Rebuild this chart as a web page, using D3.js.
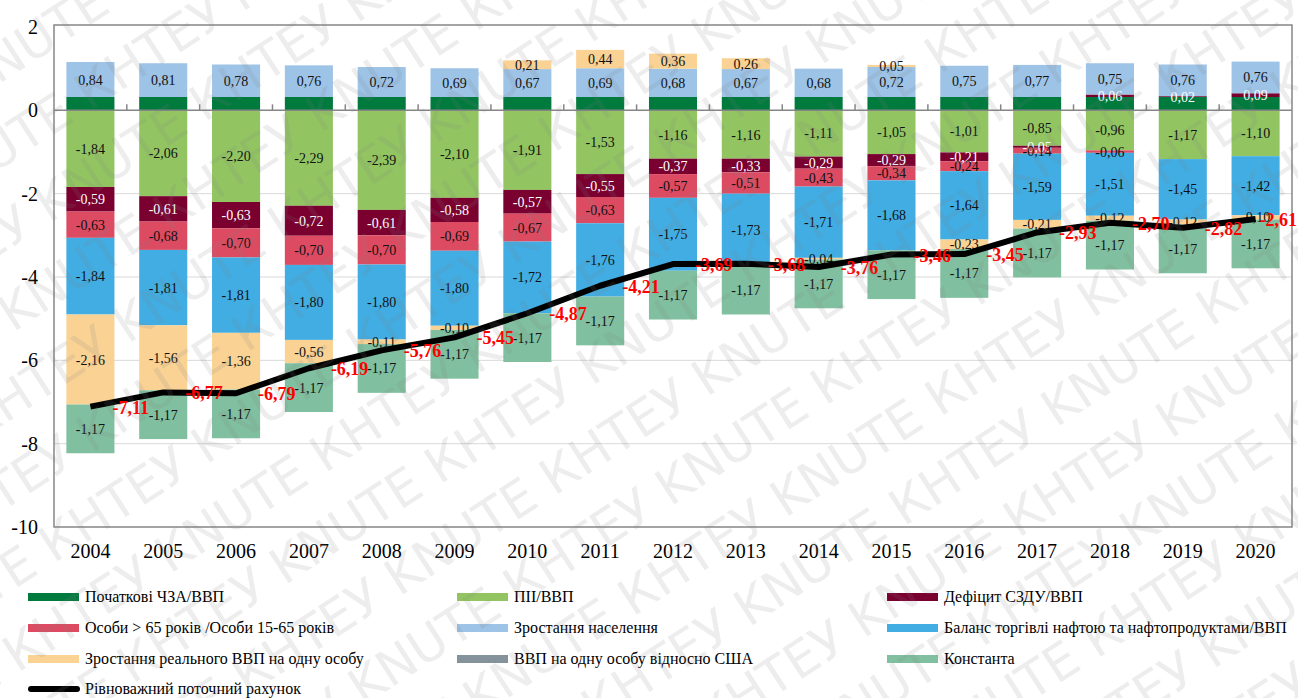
<!DOCTYPE html>
<html>
<head>
<meta charset="utf-8">
<script src="https://cdn.jsdelivr.net/npm/d3@7"></script>
<style>
  body { margin: 0; background: #fff; }
  svg { display: block; }
</style>
</head>
<body>
<div id="chart"></div>
<script>
var years = ['2004', '2005', '2006', '2007', '2008', '2009', '2010', '2011', '2012',
             '2013', '2014', '2015', '2016', '2017', '2018', '2019', '2020'];

// components of the equilibrium current account, % of GDP
var nfa       = [0.32, 0.32, 0.32, 0.32, 0.32, 0.32, 0.32, 0.32, 0.32, 0.32, 0.32, 0.32, 0.32, 0.32, 0.32, 0.32, 0.32];
var fdi       = [-1.84, -2.06, -2.20, -2.29, -2.39, -2.10, -1.91, -1.53, -1.16, -1.16, -1.11, -1.05, -1.01, -0.85, -0.96, -1.17, -1.10];
var govDef    = [-0.59, -0.61, -0.63, -0.72, -0.61, -0.58, -0.57, -0.55, -0.37, -0.33, -0.29, -0.29, -0.21, -0.05, 0.06, 0.02, 0.09];
var oldAge    = [-0.63, -0.68, -0.70, -0.70, -0.70, -0.69, -0.67, -0.63, -0.57, -0.51, -0.43, -0.34, -0.24, -0.14, -0.06, 0, 0];
var popGrowth = [0.84, 0.81, 0.78, 0.76, 0.72, 0.69, 0.67, 0.69, 0.68, 0.67, 0.68, 0.72, 0.75, 0.77, 0.75, 0.76, 0.76];
var oilBal    = [-1.84, -1.81, -1.81, -1.80, -1.80, -1.80, -1.72, -1.76, -1.75, -1.73, -1.71, -1.68, -1.64, -1.59, -1.51, -1.45, -1.42];
var gdpGrowth = [-2.16, -1.56, -1.36, -0.56, -0.11, -0.10, 0.21, 0.44, 0.36, 0.26, -0.04, 0.05, -0.23, -0.21, -0.12, -0.12, -0.10];
var gdpVsUs   = [0, 0, 0, 0, 0, 0, 0, 0, 0, 0, 0, 0, 0, 0, 0, 0, 0];
var constant  = [-1.17, -1.17, -1.17, -1.17, -1.17, -1.17, -1.17, -1.17, -1.17, -1.17, -1.17, -1.17, -1.17, -1.17, -1.17, -1.17, -1.17];
var eqCA      = [-7.11, -6.77, -6.79, -6.19, -5.76, -5.45, -4.87, -4.21, -3.69, -3.68, -3.76, -3.46, -3.45, -2.93, -2.70, -2.82, -2.61];

var yTicks = [2, 0, -2, -4, -6, -8, -10];

var series = [
  { key: 'nfa',       name: 'Початкові ЧЗА/ВВП', values: nfa,       color: '#007a3d', label: null },
  { key: 'fdi',       name: 'ПІІ/ВВП', values: fdi,                 color: '#92c562', label: '#111' },
  { key: 'govDef',    name: 'Дефіцит СЗДУ/ВВП', values: govDef,     color: '#7a0030', label: '#fff' },
  { key: 'oldAge',    name: 'Особи > 65 років /Особи 15-65 років', values: oldAge, color: '#dd4b62', label: '#111' },
  { key: 'popGrowth', name: 'Зростання населення', values: popGrowth, color: '#9dc3e6', label: '#111' },
  { key: 'oilBal',    name: 'Баланс торгівлі нафтою та нафтопродуктами/ВВП', values: oilBal, color: '#41ade3', label: '#111' },
  { key: 'gdpGrowth', name: 'Зростання реального ВВП на одну особу', values: gdpGrowth, color: '#f9d294', label: '#111' },
  { key: 'gdpVsUs',   name: 'ВВП на одну особу відносно США', values: gdpVsUs, color: '#84939b', label: '#111' },
  { key: 'constant',  name: 'Константа', values: constant,          color: '#80bf9f', label: '#111' }
];
var lineName = 'Рівноважний поточний рахунок';

var width = 1298, height = 698;
var plotLeft = 54, plotRight = 1292, plotTop = 27, plotBottom = 527;

var table = years.map(function(yr, i) {
  var row = { year: yr };
  series.forEach(function(s) { row[s.key] = s.values[i]; });
  return row;
});

var svg = d3.select('#chart').append('svg')
  .attr('width', width)
  .attr('height', height)
  .style('font-family', '"Liberation Serif", "Times New Roman", serif');

var x = d3.scaleBand()
  .domain(years)
  .range([plotLeft, plotRight])
  .paddingInner(0.34)
  .paddingOuter(0.17);

var y = d3.scaleLinear()
  .domain([-10, 2])
  .range([plotBottom, plotTop]);

// gridlines
svg.append('g')
  .selectAll('line')
  .data(yTicks.filter(function(d) { return d !== 0 && d !== 2 && d !== -10; }))
  .enter().append('line')
    .attr('x1', plotLeft)
    .attr('x2', plotRight)
    .attr('y1', function(d) { return y(d); })
    .attr('y2', function(d) { return y(d); })
    .style('stroke', '#d9d9d9')
    .style('stroke-width', 1);

// y labels
svg.append('g')
  .selectAll('text')
  .data(yTicks)
  .enter().append('text')
    .attr('x', 38)
    .attr('y', function(d) { return y(d) + 7; })
    .attr('text-anchor', 'end')
    .style('font-size', '20px')
    .text(function(d) { return d; });

var stacked = d3.stack()
  .keys(series.map(function(s) { return s.key; }))
  .offset(d3.stackOffsetDiverging)(table);

// comma decimals, plain hyphen for minus
var fmt = function(v) { return v.toFixed(2).replace('.', ','); };

var layers = svg.append('g')
  .selectAll('g')
  .data(stacked)
  .enter().append('g')
    .style('fill', function(d, i) { return series[i].color; });

layers.selectAll('rect')
  .data(function(d) { return d; })
  .enter().append('rect')
    .attr('x', function(d) { return x(d.data.year); })
    .attr('width', x.bandwidth())
    .attr('y', function(d) { return y(Math.max(d[0], d[1])); })
    .attr('height', function(d) { return Math.abs(y(d[0]) - y(d[1])); });

// zero axis with tick marks
svg.append('line')
  .attr('x1', plotLeft)
  .attr('x2', plotRight)
  .attr('y1', y(0))
  .attr('y2', y(0))
  .style('stroke', '#868686')
  .style('stroke-width', 1.5);

svg.append('g')
  .selectAll('line')
  .data(years.slice(1))
  .enter().append('line')
    .attr('x1', function(d) { return x(d) - x.step() * x.paddingInner() / 2; })
    .attr('x2', function(d) { return x(d) - x.step() * x.paddingInner() / 2; })
    .attr('y1', y(0))
    .attr('y2', y(0) - 6)
    .style('stroke', '#868686')
    .style('stroke-width', 1.5);

// plot border
svg.append('rect')
  .attr('x', plotLeft)
  .attr('y', plotTop - 2)
  .attr('width', plotRight - plotLeft)
  .attr('height', plotBottom - plotTop + 2)
  .style('fill', 'none')
  .style('stroke', '#868686')
  .style('stroke-width', 1.5);

// segment labels
stacked.forEach(function(layer, i) {
  var s = series[i];
  if (!s.label) return;
  svg.append('g')
    .selectAll('text')
    .data(layer.filter(function(d) { return d.data[s.key] !== 0; }))
    .enter().append('text')
      .attr('x', function(d) { return x(d.data.year) + x.bandwidth() / 2; })
      .attr('y', function(d) { return y((d[0] + d[1]) / 2) + 5; })
      .attr('text-anchor', 'middle')
      .style('font-size', '14px')
      .style('fill', s.label)
      .text(function(d) { return fmt(d.data[s.key]); });
});

// equilibrium current account line
var line = d3.line()
  .x(function(d, i) { return x(years[i]) + x.bandwidth() / 2; })
  .y(function(d) { return y(d); });

svg.append('path')
  .datum(eqCA)
  .attr('d', line)
  .style('fill', 'none')
  .style('stroke', '#000')
  .style('stroke-width', 6)
  .style('stroke-linejoin', 'round');

svg.append('g')
  .selectAll('text')
  .data(eqCA)
  .enter().append('text')
    .attr('x', function(d, i) {
      return i === eqCA.length - 1 ? width - 1 : x(years[i]) + x.bandwidth() / 2 + 22;
    })
    .attr('y', function(d) { return y(d) + 7; })
    .attr('text-anchor', function(d, i) { return i === eqCA.length - 1 ? 'end' : 'start'; })
    .style('font-size', '18px')
    .style('font-weight', 'bold')
    .style('fill', '#ff0000')
    .text(fmt);

// year labels
svg.append('g')
  .selectAll('text')
  .data(years)
  .enter().append('text')
    .attr('x', function(d) { return x(d) + x.bandwidth() / 2; })
    .attr('y', 558)
    .attr('text-anchor', 'middle')
    .style('font-size', '20px')
    .text(function(d) { return d; });

// legend
var legendItems = series.map(function(s) { return { name: s.name, color: s.color, line: false }; });
legendItems.push({ name: lineName, color: '#000', line: true });
var colX = [28, 457, 887];
var rowY = [597, 628, 659, 689];

var legend = svg.append('g')
  .selectAll('g')
  .data(legendItems)
  .enter().append('g')
    .attr('transform', function(d, i) {
      return 'translate(' + colX[i % 3] + ',' + rowY[Math.floor(i / 3)] + ')';
    });

legend.append('line')
  .attr('x1', function(d) { return d.line ? 3 : 0; })
  .attr('x2', function(d) { return d.line ? 49 : 51; })
  .style('stroke', function(d) { return d.color; })
  .style('stroke-width', function(d) { return d.line ? 6 : 8; })
  .style('stroke-linecap', function(d) { return d.line ? 'round' : 'butt'; });

legend.append('text')
  .attr('x', 57)
  .attr('y', 5)
  .style('font-size', '16px')
  .text(function(d) { return d.name; });

// faint diagonal watermark over the whole picture
var wmRows = d3.range(-12, 13);
svg.append('g')
  .attr('transform', 'rotate(-33,' + width / 2 + ',' + height / 2 + ')')
  .style('pointer-events', 'none')
  .selectAll('text')
  .data(wmRows)
  .enter().append('text')
    .attr('x', function(d) { return -700 + (d % 2) * 90; })
    .attr('y', function(d) { return height / 2 + d * 72; })
    .style('font-family', '"DejaVu Sans", sans-serif')
    .style('font-size', '50px')
    .style('fill', '#7f7f7f')
    .style('fill-opacity', 0.14)
    .text(d3.range(14).map(function() { return 'КНТЕУ KNUTE'; }).join(' '));
</script>
</body>
</html>
